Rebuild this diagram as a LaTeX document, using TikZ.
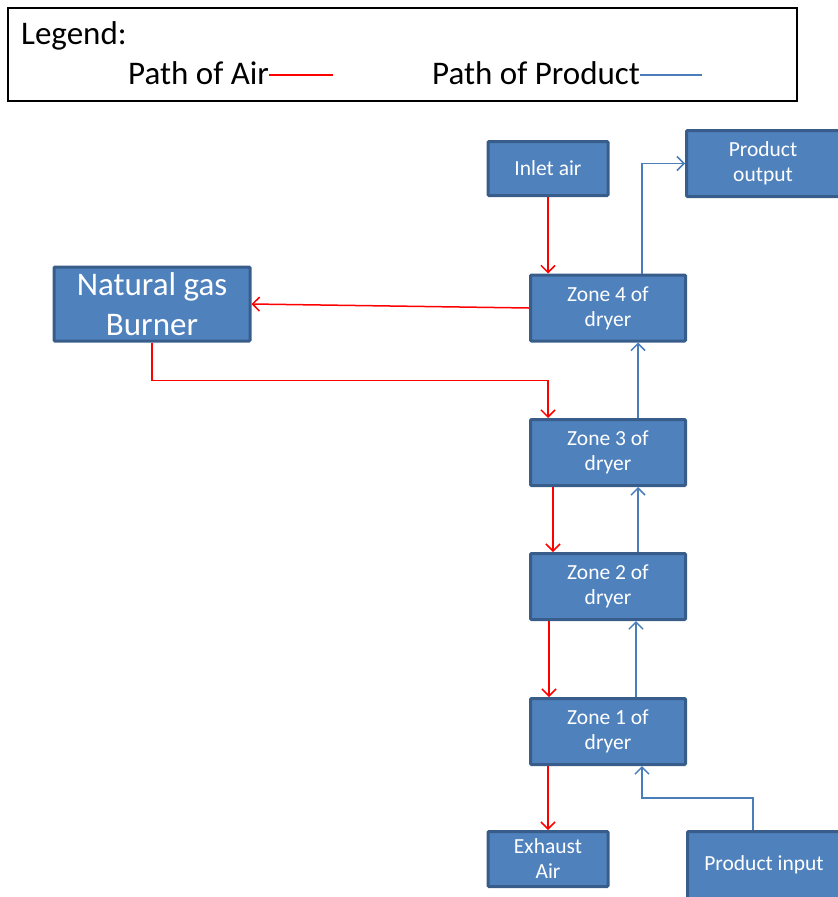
\documentclass[tikz,border=0pt]{standalone}
\usepackage{fontspec}
\setmainfont{Carlito}
\usetikzlibrary{arrows.meta}
\definecolor{boxfill}{HTML}{4F81BD}
\definecolor{boxline}{HTML}{385D8A}
\definecolor{prodline}{HTML}{4A7EBB}

\begin{document}
\begin{tikzpicture}[x=1pt,y=-1pt,>={Straight Barb[length=7pt,width=14pt]},
        blk/.style={draw=boxline,line width=3pt,fill=boxfill,text=white,inner sep=0pt,
            align=center,rounded corners=1pt,font=\fontsize{21.5}{25}\selectfont},
        zone/.style={blk,minimum width=155pt,minimum height=66pt},
        legtxt/.style={anchor=base west,inner sep=0pt,font=\fontsize{33}{38}\selectfont},
        air/.style={red,line width=1.5pt},
        prod/.style={prodline,line width=1.5pt}]
    \useasboundingbox (0,0) rectangle (838,897);
    % legend
    \draw[line width=1.2pt] (8,8) rectangle (797,101);
    \node[legtxt] (legend) at (21,44) {Legend:};
    \node[legtxt] (airtxt) at (128,84) {Path of Air};
    \node[legtxt] (prodtxt) at (432,84) {Path of Product};
    \draw[air] ([yshift=-2.5pt]airtxt.east) -- ++(64,0);
    \draw[prod] ([yshift=-2.5pt]prodtxt.east) -- ++(62,0);
    % blocks
    \node[blk,minimum width=120pt,minimum height=54pt] (inlet) at (548,168.5) {Inlet air};
    \node[blk,minimum width=153pt,minimum height=66pt] (output) at (763,163.5) {Product\\output};
    \node[blk,minimum width=196pt,minimum height=74pt,font=\fontsize{33}{40}\selectfont] (burner) at (152,304) {Natural gas\\Burner};
    \node[zone] (zone4) at (608,308) {Zone 4 of\\dryer};
    \node[zone] (zone3) at (608,452.5) {Zone 3 of\\dryer};
    \node[zone] (zone2) at (608,586.5) {Zone 2 of\\dryer};
    \node[zone] (zone1) at (608,731.5) {Zone 1 of\\dryer};
    \node[blk,minimum width=120pt,minimum height=55pt] (exhaust) at (548,859) {Exhaust\\Air};
    \node[blk,minimum width=153pt,minimum height=67pt] (input) at (764,865) {Product input};
    % air
    \draw[air,->] (inlet.south) -- (inlet.south |- zone4.north);
    \draw[air,->] (zone4.west) -- (burner.east);
    \draw[air,->] (burner.south) -- ++(0,38) -| ([xshift=-60pt]zone3.north);
    \draw[air,->] ([xshift=-55pt]zone3.south) -- ([xshift=-55pt]zone2.north);
    \draw[air,->] ([xshift=-59pt]zone2.south) -- ([xshift=-59pt]zone1.north);
    \draw[air,->] ([xshift=-60pt]zone1.south) -- ([xshift=-60pt]zone1.south |- exhaust.north);
    % product
    \draw[prod,->] ([xshift=-11pt]input.north) -- ++(0,-32) -| ([xshift=34pt]zone1.south);
    \draw[prod,->] ([xshift=28pt]zone1.north) -- ([xshift=28pt]zone2.south);
    \draw[prod,->] ([xshift=30pt]zone2.north) -- ([xshift=30pt]zone3.south);
    \draw[prod,->] ([xshift=30pt]zone3.north) -- ([xshift=30pt]zone4.south);
    \draw[prod,->] ([xshift=34pt]zone4.north) |- (output.west);
\end{tikzpicture}
\end{document}
